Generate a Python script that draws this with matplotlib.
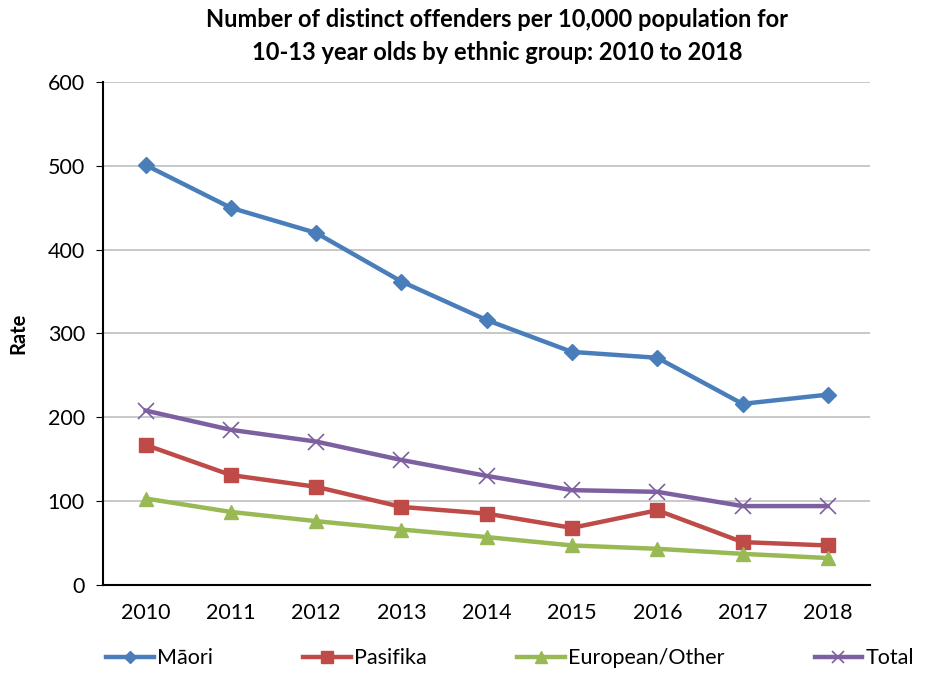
#!/usr/bin/env python3
# Distinct offenders per 10,000 population, 10-13 year olds, by ethnic group
import matplotlib
matplotlib.use("Agg")
import matplotlib.pyplot as plt

years = ['2010', '2011', '2012', '2013', '2014', '2015', '2016', '2017', '2018']
maori = [501, 450, 420, 362, 316, 278, 271, 216, 227]
pasifika = [167, 131, 117, 93, 85, 68, 89, 51, 47]
european = [103, 87, 76, 66, 57, 47, 43, 37, 32]
total = [208, 185, 171, 149, 130, 113, 111, 94, 94]

plt.rcParams['font.family'] = ['Lato', 'DejaVu Sans']

fig = plt.figure(figsize=(9.36, 6.73), dpi=100)
ax = fig.add_axes([0.110, 0.131, 0.820, 0.747])

x = range(len(years))
ax.plot(x, maori, color='#4a7ebb', lw=3.2, marker='D', ms=8, label='Māori')
ax.plot(x, pasifika, color='#be4b48', lw=3.2, marker='s', ms=10, label='Pasifika')
ax.plot(x, european, color='#98b954', lw=3.2, marker='^', ms=10, label='European/Other')
ax.plot(x, total, color='#7d60a0', lw=3.2, marker='x', ms=11, mew=1.2, label='Total')

ax.set_xlim(-0.5, len(years) - 0.5)
ax.set_ylim(0, 600)
ax.set_yticks(range(0, 601, 100))
ax.set_xticks(list(x))
ax.set_xticklabels(years)
ax.tick_params(axis='both', labelsize=15.5)
ax.tick_params(axis='x', length=0, pad=13)
ax.tick_params(axis='y', length=5, direction='out', pad=8)
ax.yaxis.grid(True, color='#bfbfbf', lw=1.2)
ax.set_axisbelow(True)
for s in ['top', 'right']:
    ax.spines[s].set_visible(False)
ax.spines['left'].set_linewidth(1.5)
ax.spines['bottom'].set_linewidth(1.5)

ax.set_ylabel('Rate', fontsize=14.5, fontweight='bold', labelpad=14)

fig.text(0.531, 0.988, 'Number of distinct offenders per 10,000 population for\n'
         '10-13 year olds by ethnic group: 2010 to 2018',
         ha='center', va='top', fontsize=17, fontweight='bold', linespacing=1.5)

fig.legend(loc='center', bbox_to_anchor=(0.545, 0.022), ncol=4, frameon=False,
           fontsize=15.5, handlelength=2.2, columnspacing=4.2, handletextpad=0.15,
           markerscale=0.8)

fig.savefig('out.png', dpi=100)
